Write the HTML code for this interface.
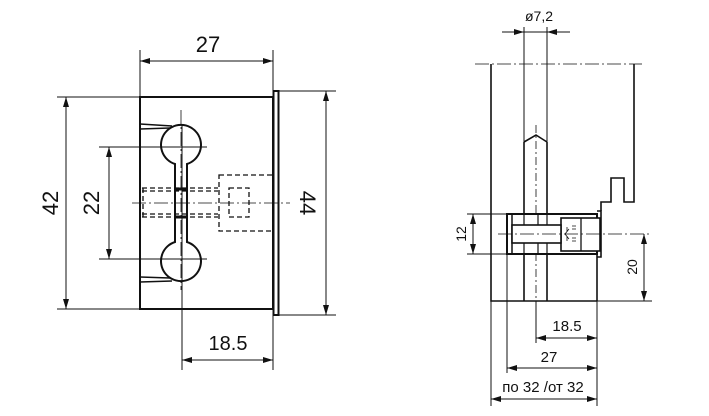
<!DOCTYPE html>
<html><head><meta charset="utf-8"><style>
html,body{margin:0;padding:0;background:#fff;width:709px;height:416px;overflow:hidden}
svg{display:block}
text{font-family:"Liberation Sans","DejaVu Sans",sans-serif;fill:#111}
</style></head><body>
<svg width="709" height="416" viewBox="0 0 709 416" xmlns="http://www.w3.org/2000/svg">
<defs>
<marker id="a" viewBox="0 0 10 6" refX="10" refY="3" markerWidth="10" markerHeight="6" orient="auto-start-reverse" markerUnits="userSpaceOnUse"><path d="M0,0L10,3L0,6z" fill="#111"/></marker>
</defs>
<g stroke="#111" fill="none" stroke-width="1">
<!-- LEFT VIEW -->
<rect x="140" y="97" width="133" height="212" stroke-width="2"/>
<rect x="273.5" y="91" width="5" height="224" stroke-width="2"/>
<!-- dim 27 -->
<line x1="140" y1="50" x2="140" y2="97"/><line x1="273" y1="50" x2="273" y2="91"/>
<line x1="140" y1="61" x2="273" y2="61" marker-start="url(#a)" marker-end="url(#a)"/>
<!-- dim 42 -->
<line x1="57" y1="97" x2="140" y2="97"/><line x1="57" y1="309" x2="140" y2="309"/>
<line x1="66" y1="97" x2="66" y2="309" marker-start="url(#a)" marker-end="url(#a)"/>
<!-- dim 44 -->
<line x1="279" y1="91" x2="336" y2="91"/><line x1="279" y1="315" x2="336" y2="315"/>
<line x1="326" y1="91" x2="326" y2="315" marker-start="url(#a)" marker-end="url(#a)"/>
<!-- dim 22 -->
<line x1="99" y1="147" x2="207" y2="147"/><line x1="99" y1="259" x2="207" y2="259"/>
<line x1="109" y1="147" x2="109" y2="259" marker-start="url(#a)" marker-end="url(#a)"/>
<!-- dim 18.5 -->
<line x1="182" y1="125" x2="182" y2="370"/><line x1="273" y1="315" x2="273" y2="370"/>
<line x1="182" y1="360" x2="273" y2="360" marker-start="url(#a)" marker-end="url(#a)"/>
<!-- dogbone -->
<path d="M175,164 A20,20 0 1 1 187,164 L187,242 A20,20 0 1 1 175,242 Z" stroke-width="2"/>
<path d="M140,124 L172,126 M140,129 L170,128" stroke-width="1.5"/>
<path d="M140,282 L172,281 M140,277 L170,278" stroke-width="1.5"/>
<line x1="176" y1="189" x2="186" y2="189" stroke-width="3"/>
<line x1="176" y1="217" x2="186" y2="217" stroke-width="3"/>
<!-- dashed -->
<g stroke-dasharray="5,3" stroke-width="1.3">
<line x1="142" y1="188" x2="218" y2="188"/><line x1="142" y1="191" x2="218" y2="191"/>
<line x1="142" y1="217" x2="218" y2="217"/><line x1="142" y1="214" x2="218" y2="214"/>
<line x1="143" y1="188" x2="143" y2="217"/>
<rect x="219" y="175" width="54" height="56"/>
<rect x="229" y="188" width="20" height="29"/>
</g>
<line x1="132" y1="203" x2="290" y2="203" stroke-dasharray="14,3,2,3" stroke-width="0.8"/>
<line x1="181" y1="110" x2="181" y2="290" stroke-dasharray="14,3,2,3" stroke-width="0.8"/>

<!-- RIGHT VIEW -->
<line x1="475" y1="64" x2="642" y2="64" stroke-dasharray="14,3,2,3" stroke-width="0.8"/>
<path d="M491,64 L491,301 L597,301" stroke-width="1.6"/>
<path d="M634,64 L634,202 L624,202 L624,178 L611,178 L611,202 L601,202 L601,211" stroke-width="1.6"/>
<path d="M597,254 L597,301" stroke-width="1.6"/>
<path d="M597,211 L601,211 L601,257 L597,257" stroke-width="1.6"/>
<!-- pin -->
<path d="M524,142 L524,301 M547,142 L547,301 M524,142 L536,135 L547,142" stroke-width="1.6"/>
<line x1="536" y1="125" x2="536" y2="301" stroke-dasharray="8,3,2,3" stroke-width="0.8"/>
<!-- block -->
<rect x="507" y="214" width="90" height="40" stroke-width="2" fill="#fff"/>
<line x1="512" y1="214" x2="512" y2="254" stroke-width="1.5"/>
<path d="M524,214 V254 M538,214 V254 M547,214 V254" stroke-width="1.2"/>
<rect x="561" y="218" width="39" height="33" stroke-width="1.6" fill="#fff"/>
<line x1="581" y1="218" x2="581" y2="251" stroke-width="1.3"/>
<rect x="512" y="225" width="49" height="18" stroke-width="1.6" fill="#fff"/>
<path d="M567,227 V232 M569,229 L565,234 L569,239 M567,236 V241 M572,226 H576 M572,229 H576 M572,238 H576 M572,241 H576" stroke-width="0.8"/>
<line x1="498" y1="234" x2="652" y2="234" stroke-dasharray="14,3,2,3" stroke-width="0.8"/>
<!-- dim Ø7.2 -->
<line x1="524" y1="27" x2="524" y2="142"/><line x1="547" y1="27" x2="547" y2="142"/>
<line x1="502" y1="32" x2="524" y2="32" marker-end="url(#a)"/>
<line x1="570" y1="32" x2="547" y2="32" marker-end="url(#a)"/>
<line x1="524" y1="32" x2="547" y2="32"/>
<!-- dim 12 -->
<line x1="467" y1="214" x2="507" y2="214"/><line x1="467" y1="254" x2="507" y2="254"/>
<line x1="473" y1="214" x2="473" y2="254" marker-start="url(#a)" marker-end="url(#a)"/>
<!-- dim 20 -->
<line x1="597" y1="301" x2="652" y2="301"/>
<line x1="644" y1="234" x2="644" y2="301" marker-start="url(#a)" marker-end="url(#a)"/>
<!-- bottom dims -->
<line x1="536" y1="301" x2="536" y2="343"/>
<line x1="507" y1="254" x2="507" y2="373"/>
<line x1="491" y1="301" x2="491" y2="406"/>
<line x1="597" y1="301" x2="597" y2="406"/>
<line x1="536" y1="338" x2="597" y2="338" marker-start="url(#a)" marker-end="url(#a)"/>
<line x1="507" y1="368" x2="597" y2="368" marker-start="url(#a)" marker-end="url(#a)"/>
<line x1="491" y1="399" x2="597" y2="399" marker-start="url(#a)" marker-end="url(#a)"/>
</g>
<!-- text -->
<text x="208" y="52" font-size="22" text-anchor="middle">27</text>
<text x="228" y="350" font-size="20" text-anchor="middle">18.5</text>
<text transform="translate(58,203) rotate(-90)" font-size="22" text-anchor="middle">42</text>
<text transform="translate(99,203) rotate(-90)" font-size="22" text-anchor="middle">22</text>
<text transform="translate(300,203) rotate(90)" font-size="22" text-anchor="middle">44</text>
<text x="539" y="21" font-size="14" text-anchor="middle">ø7,2</text>
<text transform="translate(466,234) rotate(-90)" font-size="14" text-anchor="middle">12</text>
<text transform="translate(637,267) rotate(-90)" font-size="14" text-anchor="middle">20</text>
<text x="567" y="331" font-size="15" text-anchor="middle">18.5</text>
<text x="549" y="362" font-size="15" text-anchor="middle">27</text>
<text x="543" y="392" font-size="15" text-anchor="middle">по 32 /от 32</text>
</svg>
</body></html>
